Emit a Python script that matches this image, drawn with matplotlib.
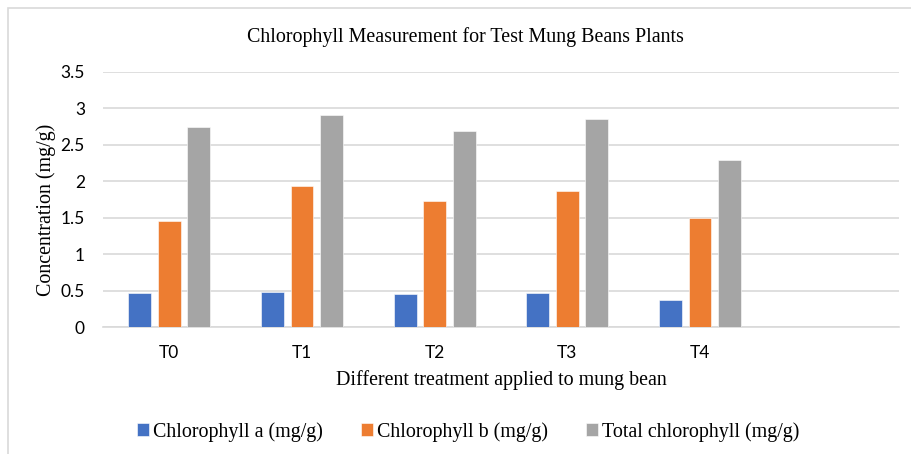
import matplotlib
matplotlib.use("Agg")
import matplotlib.pyplot as plt
import matplotlib.patches as mpatches
import numpy as np

# values
treatments = ["T0", "T1", "T2", "T3", "T4"]
chl_a = [0.47, 0.48, 0.45, 0.46, 0.37]
chl_b = [1.45, 1.93, 1.73, 1.86, 1.49]
chl_total = [2.75, 2.91, 2.69, 2.86, 2.29]
series_names = ["Chlorophyll a (mg/g)", "Chlorophyll b (mg/g)", "Total chlorophyll (mg/g)"]
colors = ["#4472C4", "#ED7D31", "#A5A5A5"]

serif = "Liberation Serif"
sans = "Lato"

fig = plt.figure(figsize=(9.12, 4.54), dpi=100)

# chart area border (runs off the right/bottom like the screenshot)
fig.patches.append(mpatches.Rectangle((8/912, -0.1), 1.2, 1 - 8/454 + 0.1,
                                      transform=fig.transFigure, fill=False,
                                      edgecolor="#D9D9D9", lw=1.2))

ax = fig.add_axes([103/912, 127/454, 796/912, 255/454])

x = np.arange(len(treatments))
w = 0.173
step = 0.222
for i, vals in enumerate([chl_a, chl_b, chl_total]):
    ax.bar(x + (i - 1) * step, vals, width=w, color=colors[i],
           edgecolor="white", linewidth=0.4, label=series_names[i], zorder=3)

ax.set_xlim(-0.5, 5.5)
ax.set_ylim(0, 3.5)
yt = np.arange(0, 3.51, 0.5)
ax.set_yticks(yt)
ax.set_yticklabels([f"{v:g}" for v in yt], fontfamily=sans, fontsize=12.5)
ax.set_xticks(x)
ax.set_xticklabels(treatments, fontfamily=sans, fontsize=12.5)
ax.tick_params(axis="both", length=0)
ax.tick_params(axis="y", pad=13)
ax.tick_params(axis="x", pad=13)

ax.grid(axis="y", color="#D9D9D9", lw=1.2, zorder=0)
for s in ["top", "right", "left"]:
    ax.spines[s].set_visible(False)
ax.spines["bottom"].set_color("#D9D9D9")
ax.spines["bottom"].set_linewidth(1.2)

fig.text(465/912, 1 - 37/454, "Chlorophyll Measurement for Test Mung Beans Plants",
         ha="center", va="center", fontfamily=serif, fontsize=14.4)
fig.text(46/912, 1 - 210/454, "Concentration (mg/g)", rotation=90,
         ha="center", va="center", fontfamily=serif, fontsize=14.4)
fig.text(501/912, 1 - 380/454, "Different treatment applied to mung bean",
         ha="center", va="center", fontfamily=serif, fontsize=14.4)

handles, labels = ax.get_legend_handles_labels()
fig.legend(handles, labels, loc="center", bbox_to_anchor=(468/912, 1 - 432/454),
           ncol=3, frameon=False, prop={"family": serif, "size": 14.4},
           handlelength=0.6, handleheight=0.6, handletextpad=0.2, columnspacing=1.9)

fig.savefig("out.png", dpi=100)
